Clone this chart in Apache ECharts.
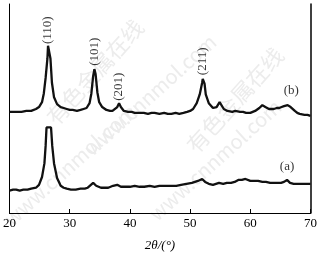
<!DOCTYPE html>
<html><head><meta charset="utf-8">
<script src="https://cdn.jsdelivr.net/npm/echarts@6/dist/echarts.min.js"></script>
<style>html,body{margin:0;padding:0;background:#fff}#c{width:320px;height:257px}</style>
</head><body><div id="c"></div>
<script>
// 2θ (deg), intensity (arb. units)
const curveB = [
[20.0,104],[21.0,104],[22.0,104],[22.8,105],[23.6,105],[24.4,107],[24.9,109],[25.4,114],[25.7,123],[26.0,139],[26.3,159],[26.4,172],[26.6,172],[26.8,159],[27.05,134],[27.4,119],[27.9,112],[28.5,109],[29.0,108],[29.5,107],[30.0,106],[30.5,106],[31.2,105],[31.8,106],[32.3,107],[32.8,108],[33.3,113],[33.6,123],[33.9,141],[34.1,148],[34.3,143],[34.6,124],[34.9,114],[35.4,109],[36.1,106],[36.7,105],[37.1,105],[37.4,106],[37.9,109],[38.2,113],[38.5,109],[39.0,105],[39.7,104],[40.3,104],[40.8,103],[41.6,103],[42.3,103],[43.0,102],[43.6,103],[44.1,103],[44.9,102],[45.7,103],[46.3,102],[46.9,102],[47.6,103],[48.2,102],[48.9,103],[49.5,104],[50.0,105],[50.5,107],[51.1,113],[51.6,122],[52.0,134],[52.1,138],[52.4,133],[52.6,122],[53.1,113],[53.8,108],[54.4,109],[54.9,114],[55.2,112],[55.6,107],[56.2,105],[57.0,104],[57.5,105],[57.8,106],[58.3,104],[58.8,104],[59.3,103],[60.0,103],[60.8,105],[61.5,108],[62.0,111],[62.5,109],[63.1,107],[63.5,107],[63.9,107],[64.4,108],[64.8,108],[65.2,109],[65.6,110],[66.2,111],[66.7,109],[67.4,105],[67.8,103],[68.2,102],[69.0,101],[69.5,101],[70.0,100]
];
const curveA = [
[20.0,23],[20.6,24],[21.1,24],[21.7,23],[22.3,24],[23.0,24],[23.6,25],[24.4,26],[24.9,29],[25.4,37],[25.8,51],[26.0,69],[26.15,88],[26.9,88],[27.1,69],[27.4,51],[27.9,36],[28.5,28],[29.0,26],[29.5,25],[30.2,24],[31.0,24],[31.8,25],[32.5,25],[33.0,26],[33.3,28],[33.9,31],[34.4,28],[35.2,26],[35.8,26],[36.4,26],[36.8,27],[37.2,28],[37.9,29],[38.5,27],[39.2,27],[40.0,27],[40.8,28],[41.6,27],[42.4,27],[43.3,28],[44.1,27],[44.9,28],[45.9,28],[46.9,28],[47.7,28],[48.5,29],[49.4,30],[50.3,31],[50.8,32],[51.3,33],[52.0,35],[52.5,32],[53.1,30],[53.8,29],[54.3,30],[54.8,31],[55.5,30],[56.1,31],[56.8,31],[57.4,32],[58.0,34],[58.6,34],[59.2,35],[60.0,33],[60.6,33],[61.3,33],[62.0,32],[62.6,32],[63.3,31],[63.9,31],[64.5,31],[65.1,31],[65.6,32],[66.1,34],[66.6,31],[67.2,30],[67.9,30],[68.6,30],[69.3,30],[70.0,30]
];
const peakLabels = [
  {name:'(110)', value:[26.4,188]},
  {name:'(101)', value:[34.1,166]},
  {name:'(201)', value:[38.2,130]},
  {name:'(211)', value:[52.1,156]}
];
const curveNames = [
  {name:'(b)', value:[66.8,126]},
  {name:'(a)', value:[66.1,48]}
];
const xTicks = {min:20, max:70, interval:10};

const serif = '"Liberation Serif","DejaVu Serif",serif';
const chart = echarts.init(document.getElementById('c'));
const wm = '#ececec';
function wmText(t, x, y, deg, size){
  return {type:'text', x:x, y:y, rotation:deg*Math.PI/180, z:-1, silent:true,
    style:{text:t, fill:wm, font:size+'px "Noto Sans CJK SC", sans-serif', align:'center', verticalAlign:'middle'}};
}
chart.setOption({
  animation:false,
  graphic:[
    wmText('有色金属在线', 95, 72, 48, 22),
    wmText('www.cnnmol.com', 150, 95, 42, 20),
    wmText('有色金属在线', 235, 100, 48, 22),
    wmText('www.cnnmol.com', 215, 160, 42, 20),
    wmText('www.cnnmol.com', 70, 165, 42, 20)
  ],
  grid:{left:8, right:7, top:4, bottom:38},
  xAxis:[{
    type:'value', min:xTicks.min, max:xTicks.max, interval:xTicks.interval,
    axisLine:{show:true, lineStyle:{color:'#000', width:1}},
    axisTick:{show:true, inside:true, length:4, lineStyle:{color:'#000'}},
    axisLabel:{color:'#000', fontFamily:serif, fontSize:13, margin:4},
    splitLine:{show:false},
    name:'2{i|θ}/(°)', nameLocation:'middle', nameGap:26,
    nameTextStyle:{color:'#000', fontFamily:serif, fontSize:13, fontStyle:'italic',
      rich:{i:{fontFamily:serif, fontSize:13, fontStyle:'italic', color:'#000'}}}
  },{
    type:'value', position:'top', min:xTicks.min, max:xTicks.max, interval:xTicks.interval,
    axisLine:{show:true, lineStyle:{color:'#000', width:1}},
    axisTick:{show:false}, axisLabel:{show:false}, splitLine:{show:false}
  }],
  yAxis:[{
    type:'value', min:0, max:215, position:'left',
    axisLine:{show:true, lineStyle:{color:'#000', width:1}},
    axisTick:{show:false}, axisLabel:{show:false}, splitLine:{show:false}
  },{
    type:'value', min:0, max:215, position:'right',
    axisLine:{show:true, lineStyle:{color:'#000', width:1.5}},
    axisTick:{show:false}, axisLabel:{show:false}, splitLine:{show:false}
  }],
  series:[
    {type:'line', data:curveB, showSymbol:false, symbol:'none', lineStyle:{color:'#111', width:2.3}},
    {type:'line', data:curveA, showSymbol:false, symbol:'none', lineStyle:{color:'#111', width:2.3}},
    {type:'scatter', data:peakLabels, symbolSize:0, silent:true,
      label:{show:true, position:'inside', rotate:90, formatter:'{b}', color:'#000', fontFamily:serif, fontSize:13}},
    {type:'scatter', data:curveNames, symbolSize:0, silent:true,
      label:{show:true, position:'inside', formatter:'{b}', color:'#000', fontFamily:serif, fontSize:13}}
  ]
});
</script></body></html>
